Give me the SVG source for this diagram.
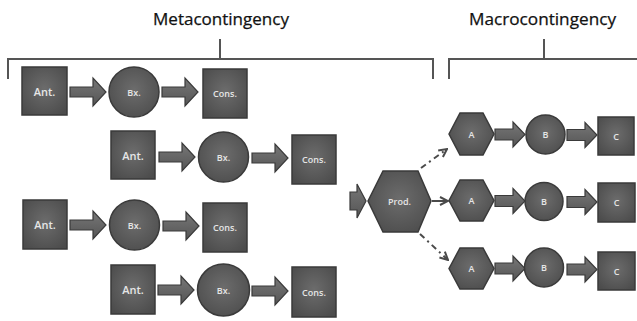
<svg xmlns="http://www.w3.org/2000/svg" width="637" height="321" viewBox="0 0 637 321">
<style>
.node{fill:url(#g);stroke:#3a3a3a;stroke-width:1.5}
.arr{fill:url(#ga);stroke:#3a3a3a;stroke-width:1.2}
.lbl{font-family:"Open Sans","Liberation Sans",sans-serif;fill:#e6e6e6;text-anchor:middle;dominant-baseline:central;font-weight:600}
.big{font-size:11px}
.sm{font-size:9px}
.title{font-family:"Open Sans","Liberation Sans",sans-serif;font-size:16px;fill:#111;text-anchor:middle;stroke:#111;stroke-width:0.25}
.br{fill:none;stroke:#555;stroke-width:2}
.con{fill:none;stroke:#4a4a4a;stroke-width:2}
.dash{stroke-dasharray:6 4 2 4}
</style>
<defs>
<radialGradient id="g" cx="50%" cy="45%" r="65%">
<stop offset="0" stop-color="#6c6c6c"/>
<stop offset="1" stop-color="#4c4c4c"/>
</radialGradient>
<linearGradient id="ga" x1="0" y1="0" x2="0" y2="1">
<stop offset="0" stop-color="#777"/>
<stop offset="1" stop-color="#555"/>
</linearGradient>
<path id="arr" d="M0,-5 H23 V-14 L36,0 L23,14 V5 H0 Z"/>
<path id="arr2" d="M0,-5.5 H18 V-12.5 L30,0 L18,12.5 V5.5 H0 Z"/>
<marker id="m" viewBox="0 0 10 10" refX="9" refY="5" markerWidth="5" markerHeight="5" orient="auto" markerUnits="strokeWidth">
<path d="M1,1 L9,5 L1,9" fill="none" stroke="#4a4a4a" stroke-width="2"/>
</marker>
</defs>

<g id="titles">
<text class="title" x="221" y="25" textLength="136" lengthAdjust="spacingAndGlyphs">Metacontingency</text>
<text class="title" x="542.5" y="25" textLength="147" lengthAdjust="spacingAndGlyphs">Macrocontingency</text>
</g>
<g id="brackets">
<path class="br" d="M8,79 V59 H433 V79 M220,39 V59"/>
<path class="br" d="M449,79 V59 H637 M544,39 V59"/>
</g>

<g id="connectors">
<use href="#arr" class="arr" x="70" y="92"/>
<use href="#arr" class="arr" x="162" y="92"/>
<use href="#arr" class="arr" x="159" y="157"/>
<use href="#arr" class="arr" x="252" y="158"/>
<use href="#arr" class="arr" x="70" y="225"/>
<use href="#arr" class="arr" x="163" y="226"/>
<use href="#arr" class="arr" x="158" y="290"/>
<use href="#arr" class="arr" x="252" y="291"/>
<path class="arr" d="M350,192 H357 V184 L366,201 L357,218 V210 H350 Z"/>
<path class="con dash" d="M421,168 L447,149" marker-end="url(#m)"/>
<path class="con" d="M432,201 L448,201" marker-end="url(#m)"/>
<path class="con dash" d="M420,234 L448,260" marker-end="url(#m)"/>
<use href="#arr2" class="arr" x="495" y="134.5"/>
<use href="#arr2" class="arr" x="567" y="135"/>
<use href="#arr2" class="arr" x="495" y="201"/>
<use href="#arr2" class="arr" x="567" y="202"/>
<use href="#arr2" class="arr" x="495" y="268.5"/>
<use href="#arr2" class="arr" x="567" y="269.5"/>
</g>

<g id="ant1"><rect class="node" x="22" y="67" width="45" height="48"/><text class="lbl big" x="44.5" y="91">Ant.</text></g>
<g id="bx1"><circle class="node" cx="134" cy="92" r="25"/><text class="lbl sm" x="134" y="92">Bx.</text></g>
<g id="cons1"><rect class="node" x="203" y="69" width="44" height="49"/><text class="lbl sm" x="225" y="93.5">Cons.</text></g>

<g id="ant2"><rect class="node" x="111" y="131" width="44" height="48"/><text class="lbl big" x="133" y="155">Ant.</text></g>
<g id="bx2"><circle class="node" cx="223.5" cy="157" r="25"/><text class="lbl sm" x="223.5" y="157">Bx.</text></g>
<g id="cons2"><rect class="node" x="292" y="135" width="44" height="49"/><text class="lbl sm" x="314" y="159.5">Cons.</text></g>

<g id="ant3"><rect class="node" x="23" y="200" width="44" height="49"/><text class="lbl big" x="45" y="224.5">Ant.</text></g>
<g id="bx3"><circle class="node" cx="134.5" cy="225" r="25"/><text class="lbl sm" x="134.5" y="225">Bx.</text></g>
<g id="cons3"><rect class="node" x="203" y="203" width="44" height="49"/><text class="lbl sm" x="225" y="227.5">Cons.</text></g>

<g id="ant4"><rect class="node" x="111" y="265" width="44" height="49"/><text class="lbl big" x="133" y="289.5">Ant.</text></g>
<g id="bx4"><circle class="node" cx="223.5" cy="290" r="26"/><text class="lbl sm" x="223.5" y="290">Bx.</text></g>
<g id="cons4"><rect class="node" x="292" y="267" width="44" height="50"/><text class="lbl sm" x="314" y="292">Cons.</text></g>

<g id="prod"><polygon class="node" points="368,201 383,171 418,171 431,201 418,232 383,232"/><text class="lbl sm" x="399.5" y="201">Prod.</text></g>

<g id="a1"><polygon class="node" points="449,134 460,113 483,113 494,134 483,155 460,155"/><text class="lbl sm" x="471.5" y="134">A</text></g>
<g id="b1"><circle class="node" cx="545.5" cy="134.5" r="19.5"/><text class="lbl sm" x="545.5" y="134.5">B</text></g>
<g id="c1"><rect class="node" x="598" y="117" width="36" height="38"/><text class="lbl sm" x="616" y="136">C</text></g>

<g id="a2"><polygon class="node" points="449,200.5 460,180 483,180 494,200.5 483,221 460,221"/><text class="lbl sm" x="471.5" y="200.5">A</text></g>
<g id="b2"><circle class="node" cx="544" cy="201.5" r="19"/><text class="lbl sm" x="544" y="201.5">B</text></g>
<g id="c2"><rect class="node" x="598" y="183" width="37" height="39"/><text class="lbl sm" x="616.5" y="202.5">C</text></g>

<g id="a3"><polygon class="node" points="449,268.5 460,248 483,248 494,268.5 483,289 460,289"/><text class="lbl sm" x="471.5" y="268.5">A</text></g>
<g id="b3"><circle class="node" cx="544" cy="267.5" r="19.5"/><text class="lbl sm" x="544" y="267.5">B</text></g>
<g id="c3"><rect class="node" x="598" y="252" width="37" height="38"/><text class="lbl sm" x="616.5" y="271">C</text></g>
</svg>
